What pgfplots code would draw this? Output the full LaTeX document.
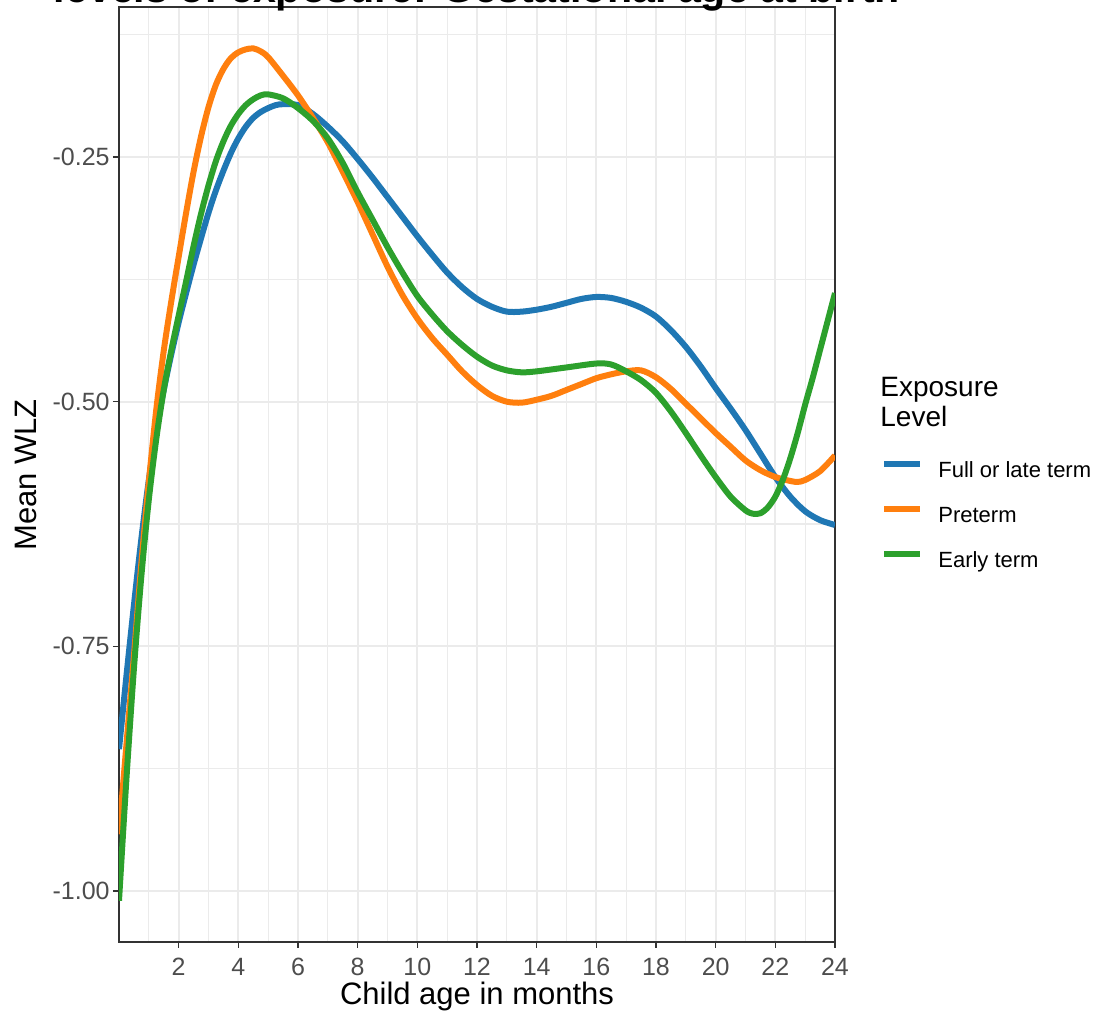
\documentclass[border=0pt]{standalone}
\usepackage{pgfplots}
\usepackage{pgfplotstable}
\pgfplotsset{compat=1.18}
\usepackage{fontspec}
\setmainfont{Liberation Sans}
\definecolor{cblue}{HTML}{1F77B4}
\definecolor{corange}{HTML}{FF7F0E}
\definecolor{cgreen}{HTML}{2CA02C}
\definecolor{grid92}{HTML}{EBEBEB}
\definecolor{grey20}{HTML}{333333}
\definecolor{grey30}{HTML}{4D4D4D}

\pgfplotstableread{
x y
0 -0.855
0.25 -0.780
0.5 -0.708
0.75 -0.640
1.0 -0.580
1.25 -0.530
1.5 -0.488
1.75 -0.452
2.0 -0.419
2.25 -0.389
2.5 -0.360
2.75 -0.333
3.0 -0.307
3.25 -0.284
3.5 -0.264
3.75 -0.246
4.0 -0.231
4.25 -0.219
4.5 -0.210
4.75 -0.204
5.0 -0.200
5.25 -0.197
5.5 -0.196
6.0 -0.197
6.5 -0.206
7.0 -0.219
7.5 -0.234
8.0 -0.252
8.5 -0.271
9.0 -0.291
9.5 -0.311
10.0 -0.331
10.5 -0.350
11.0 -0.368
11.5 -0.383
12.0 -0.395
12.5 -0.403
13.0 -0.408
13.5 -0.408
14.0 -0.406
14.5 -0.403
15.0 -0.399
15.5 -0.395
16.0 -0.393
16.5 -0.394
17.0 -0.398
17.5 -0.404
18.0 -0.413
18.5 -0.427
19.0 -0.444
19.5 -0.464
20.0 -0.486
20.5 -0.507
21.0 -0.529
21.5 -0.553
22.0 -0.577
22.5 -0.597
23.0 -0.612
23.5 -0.621
24.0 -0.626
}\fullterm

\pgfplotstableread{
x y
0 -0.942
0.25 -0.850
0.5 -0.760
0.75 -0.665
1.0 -0.582
1.25 -0.508
1.5 -0.448
1.75 -0.398
2.0 -0.352
2.25 -0.307
2.5 -0.265
2.75 -0.229
3.0 -0.199
3.25 -0.176
3.5 -0.160
3.75 -0.149
4.0 -0.143
4.25 -0.140
4.5 -0.139
4.75 -0.142
5.0 -0.148
5.5 -0.167
6.0 -0.187
6.5 -0.210
7.0 -0.235
7.5 -0.265
8.0 -0.296
8.5 -0.329
9.0 -0.362
9.5 -0.391
10.0 -0.415
10.5 -0.435
11.0 -0.452
11.5 -0.469
12.0 -0.483
12.5 -0.494
13.0 -0.500
13.5 -0.501
14.0 -0.498
14.5 -0.494
15.0 -0.488
15.5 -0.482
16.0 -0.476
16.5 -0.472
17.0 -0.469
17.5 -0.468
18.0 -0.475
18.5 -0.487
19.0 -0.502
19.5 -0.517
20.0 -0.532
20.5 -0.546
21.0 -0.560
21.5 -0.570
22.0 -0.577
22.5 -0.581
22.75 -0.582
23.0 -0.580
23.5 -0.571
24.0 -0.555
}\preterm

\pgfplotstableread{
x y
0 -1.010
0.25 -0.885
0.5 -0.773
0.75 -0.678
1.0 -0.600
1.25 -0.538
1.5 -0.488
1.75 -0.448
2.0 -0.412
2.25 -0.377
2.5 -0.341
2.75 -0.308
3.0 -0.279
3.25 -0.254
3.5 -0.234
3.75 -0.218
4.0 -0.206
4.25 -0.197
4.5 -0.191
4.75 -0.187
5.0 -0.186
5.5 -0.190
6.0 -0.200
6.5 -0.213
7.0 -0.231
7.5 -0.256
8.0 -0.286
8.5 -0.314
9.0 -0.342
9.5 -0.368
10.0 -0.392
10.5 -0.411
11.0 -0.428
11.5 -0.442
12.0 -0.454
12.5 -0.463
13.0 -0.468
13.5 -0.470
14.0 -0.469
15.0 -0.465
16.0 -0.461
16.5 -0.462
17.0 -0.469
17.5 -0.478
18.0 -0.491
18.5 -0.510
19.0 -0.532
19.5 -0.555
20.0 -0.577
20.5 -0.597
21.0 -0.611
21.25 -0.6145
21.5 -0.614
21.75 -0.608
22.0 -0.597
22.25 -0.580
22.5 -0.558
22.75 -0.532
23.0 -0.503
23.25 -0.476
23.5 -0.447
23.75 -0.418
24.0 -0.389
}\earlyterm

\begin{document}
\begin{tikzpicture}
\begin{axis}[
  at={(0pt,0pt)}, anchor=south west,
  scale only axis, width=358pt, height=467.5pt,
  xmin=0, xmax=24, ymin=-1.0521, ymax=-0.0967,
  xtick={2,4,...,24},
  xticklabels={2,4,6,8,10,12,14,16,18,20,22,24},
  minor xtick={1,3,...,23},
  ytick={-1,-0.75,-0.5,-0.25},
  yticklabels={-1.00,-0.75,-0.50,-0.25},
  minor ytick={-0.875,-0.625,-0.375,-0.125},
  xtick pos=bottom, ytick pos=left,
  grid=both,
  major grid style={draw=grid92, line width=1.1pt},
  minor grid style={draw=grid92, line width=0.55pt},
  tick align=outside, major tick length=3pt, minor tick length=0pt,
  major tick style={draw=grey20, line width=0.6pt},
  minor tick style={draw=none},
  axis line style={draw=grey20, line width=0.6pt},
  ticklabel style={font=\fontsize{12.5}{14}\selectfont, text=grey30, inner sep=0pt},
  xticklabel style={anchor=north, yshift=-5pt},
  yticklabel style={anchor=east, xshift=-1.5pt},
  legend style={at={(axis description cs:1.0642,0.515)}, anchor=north west,
    draw=none, fill=none, inner sep=0pt, row sep=11.8pt, column sep=7.5pt,
    font=\fontsize{11}{13}\selectfont,
    nodes={inner sep=0pt, text height=8pt, text depth=2.5pt}},
  legend cell align=left,
  legend image code/.code={\draw[#1, line width=3pt] (0pt,3.95pt) -- (18pt,3.95pt);},
]
\addplot[cblue, line width=3pt, smooth] table[x=x,y=y] {\fullterm};
\addlegendentry{Full or late term}
\addplot[corange, line width=3pt, smooth] table[x=x,y=y] {\preterm};
\addlegendentry{Preterm}
\addplot[cgreen, line width=3pt, smooth] table[x=x,y=y] {\earlyterm};
\addlegendentry{Early term}
\end{axis}
\node[anchor=base, font=\bfseries\fontsize{20.6}{24}\selectfont] at (179pt,469.5pt) {levels of exposure: Gestational age at birth};
\node[anchor=base, font=\fontsize{15.5}{18}\selectfont] at (179pt,-31.5pt) {Child age in months};
\node[anchor=base, rotate=90, font=\fontsize{15.5}{18}\selectfont] at (-41.2pt,233.5pt) {Mean WLZ};
\node[anchor=base west, inner sep=0pt, font=\fontsize{14}{15}\selectfont] at (380.5pt,272.5pt) {Exposure};
\node[anchor=base west, inner sep=0pt, font=\fontsize{14}{15}\selectfont] at (380.5pt,257.5pt) {Level};
\pgfresetboundingbox
\useasboundingbox (-59.5pt,-37.5pt) rectangle (489.5pt,471pt);
\end{tikzpicture}
\end{document}
